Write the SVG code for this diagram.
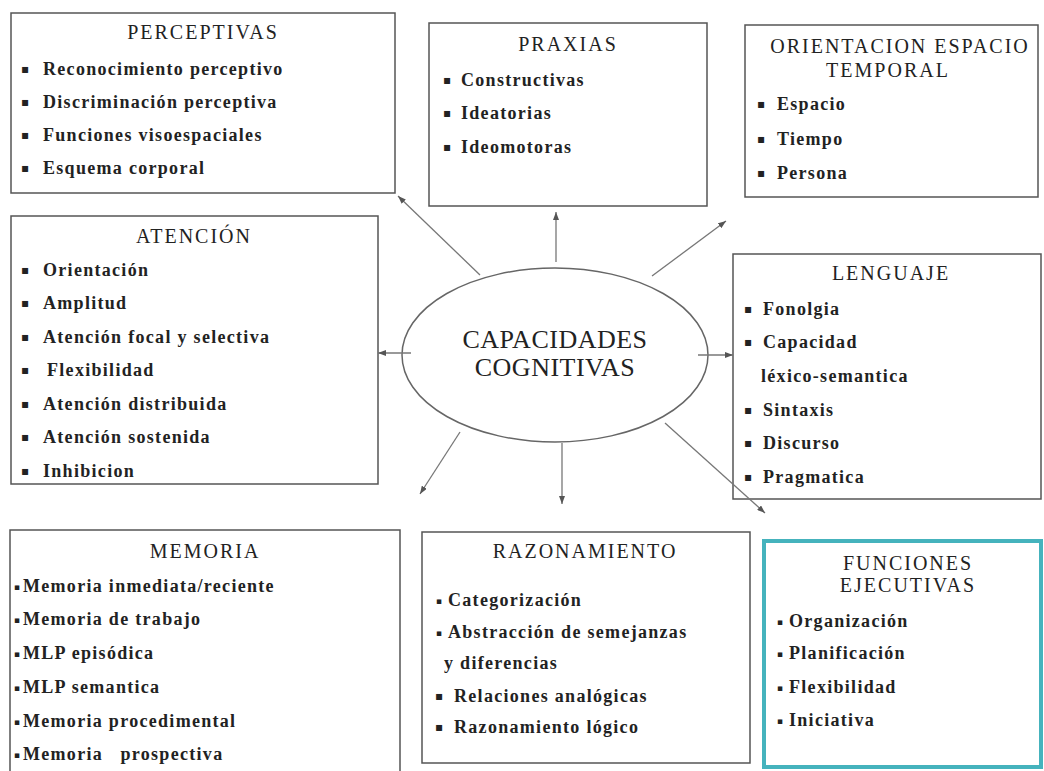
<svg xmlns="http://www.w3.org/2000/svg" width="1044" height="771" viewBox="0 0 1044 771">
<style>
.box{fill:#fff;stroke:#555;stroke-width:1.5}
.teal{fill:#fff;stroke:#45b3bd;stroke-width:4}
.t{font-family:"Liberation Serif",serif;font-size:20px;fill:#222;letter-spacing:2px;text-anchor:middle}
.i{font-family:"Liberation Serif",serif;font-size:18px;font-weight:bold;fill:#222;letter-spacing:1.3px}
.b{font-family:"DejaVu Sans",sans-serif;font-size:12px;fill:#222}
.s{font-family:"DejaVu Sans",sans-serif;font-size:9px;fill:#222}
.c{font-family:"Liberation Serif",serif;font-size:26px;fill:#222;letter-spacing:0.5px;text-anchor:middle}
.e{fill:#fff;stroke:#666;stroke-width:1.5}
.l{stroke:#777;stroke-width:1.3;fill:none;marker-end:url(#ah)}
</style>
<defs>
<marker id="ah" markerWidth="8" markerHeight="6" refX="8" refY="3" orient="auto" markerUnits="userSpaceOnUse">
<path d="M0,0 L8,3 L0,6 z" fill="#555"/>
</marker>
</defs>
<rect width="1044" height="771" fill="#fff"/>

<g id="perceptivas">
<rect class="box" x="11" y="13" width="384" height="180"/>
<text class="t" x="203" y="39">PERCEPTIVAS</text>
<text class="b" x="21" y="73">▪</text><text class="i" x="43" y="75">Reconocimiento perceptivo</text>
<text class="b" x="21" y="106">▪</text><text class="i" x="43" y="108">Discriminación perceptiva</text>
<text class="b" x="21" y="139">▪</text><text class="i" x="43" y="141">Funciones visoespaciales</text>
<text class="b" x="21" y="172">▪</text><text class="i" x="43" y="174">Esquema corporal</text>
</g>

<g id="praxias">
<rect class="box" x="429" y="23" width="278" height="183"/>
<text class="t" x="568" y="51">PRAXIAS</text>
<text class="b" x="443" y="84">▪</text><text class="i" x="461" y="86">Constructivas</text>
<text class="b" x="443" y="117">▪</text><text class="i" x="461" y="119">Ideatorias</text>
<text class="b" x="443" y="151">▪</text><text class="i" x="461" y="153">Ideomotoras</text>
</g>

<g id="orientacion">
<rect class="box" x="745" y="25" width="293" height="172"/>
<text class="t" x="900" y="53">ORIENTACION ESPACIO</text>
<text class="t" x="888" y="77">TEMPORAL</text>
<text class="b" x="757" y="108">▪</text><text class="i" x="777" y="110">Espacio</text>
<text class="b" x="757" y="143">▪</text><text class="i" x="777" y="145">Tiempo</text>
<text class="b" x="757" y="177">▪</text><text class="i" x="777" y="179">Persona</text>
</g>

<g id="atencion">
<rect class="box" x="11" y="216" width="367" height="268"/>
<text class="t" x="194" y="243">ATENCIÓN</text>
<text class="b" x="21" y="274">▪</text><text class="i" x="43" y="276">Orientación</text>
<text class="b" x="21" y="307">▪</text><text class="i" x="43" y="309">Amplitud</text>
<text class="b" x="21" y="341">▪</text><text class="i" x="43" y="343">Atención focal y selectiva</text>
<text class="b" x="21" y="374">▪</text><text class="i" x="47" y="376">Flexibilidad</text>
<text class="b" x="21" y="408">▪</text><text class="i" x="43" y="410">Atención distribuida</text>
<text class="b" x="21" y="441">▪</text><text class="i" x="43" y="443">Atención sostenida</text>
<text class="b" x="21" y="475">▪</text><text class="i" x="43" y="477">Inhibicion</text>
</g>

<g id="capacidades">
<ellipse class="e" cx="555" cy="355" rx="153" ry="87"/>
<text class="c" x="555" y="348">CAPACIDADES</text>
<text class="c" x="555" y="376">COGNITIVAS</text>
</g>

<g id="lenguaje">
<rect class="box" x="733" y="254" width="308" height="245"/>
<text class="t" x="891" y="280">LENGUAJE</text>
<text class="b" x="744" y="313">▪</text><text class="i" x="763" y="315">Fonolgia</text>
<text class="b" x="744" y="346">▪</text><text class="i" x="763" y="348">Capacidad</text>
<text class="i" x="761" y="382">léxico-semantica</text>
<text class="b" x="744" y="414">▪</text><text class="i" x="763" y="416">Sintaxis</text>
<text class="b" x="744" y="447">▪</text><text class="i" x="763" y="449">Discurso</text>
<text class="b" x="744" y="481">▪</text><text class="i" x="763" y="483">Pragmatica</text>
</g>

<g id="memoria">
<rect class="box" x="10" y="530" width="390" height="250"/>
<text class="t" x="205" y="558">MEMORIA</text>
<text class="s" x="14" y="590">▪</text><text class="i" x="23" y="592">Memoria inmediata/reciente</text>
<text class="s" x="14" y="623">▪</text><text class="i" x="23" y="625">Memoria de trabajo</text>
<text class="s" x="14" y="657">▪</text><text class="i" x="23" y="659">MLP episódica</text>
<text class="s" x="14" y="691">▪</text><text class="i" x="23" y="693">MLP semantica</text>
<text class="s" x="14" y="725">▪</text><text class="i" x="23" y="727">Memoria procedimental</text>
<text class="s" x="14" y="758">▪</text><text class="i" x="23" y="760" xml:space="preserve">Memoria   prospectiva</text>
</g>

<g id="razonamiento">
<rect class="box" x="422" y="532" width="328" height="231"/>
<text class="t" x="585" y="558">RAZONAMIENTO</text>
<text class="s" x="436" y="604">▪</text><text class="i" x="448" y="606">Categorización</text>
<text class="s" x="436" y="636">▪</text><text class="i" x="448" y="638">Abstracción de semejanzas</text>
<text class="i" x="444" y="669">y diferencias</text>
<text class="b" x="435" y="700">▪</text><text class="i" x="454" y="702">Relaciones analógicas</text>
<text class="b" x="435" y="731">▪</text><text class="i" x="454" y="733">Razonamiento lógico</text>
</g>

<g id="funciones">
<rect class="teal" x="764" y="541" width="277" height="226"/>
<text class="t" x="908" y="570">FUNCIONES</text>
<text class="t" x="908" y="592">EJECUTIVAS</text>
<text class="s" x="777" y="625">▪</text><text class="i" x="789" y="627">Organización</text>
<text class="s" x="777" y="657">▪</text><text class="i" x="789" y="659">Planificación</text>
<text class="s" x="777" y="691">▪</text><text class="i" x="789" y="693">Flexibilidad</text>
<text class="s" x="777" y="724">▪</text><text class="i" x="789" y="726">Iniciativa</text>
</g>

<g id="connectors">
<line class="l" x1="480" y1="275" x2="398" y2="196"/>
<line class="l" x1="556" y1="262" x2="556" y2="212"/>
<line class="l" x1="652" y1="276" x2="726" y2="221"/>
<line class="l" x1="411" y1="353" x2="378" y2="353"/>
<line class="l" x1="698" y1="355" x2="733" y2="355"/>
<line class="l" x1="460" y1="432" x2="420" y2="494"/>
<line class="l" x1="562" y1="443" x2="562" y2="504"/>
<line class="l" x1="665" y1="423" x2="765" y2="513"/>
</g>
</svg>
